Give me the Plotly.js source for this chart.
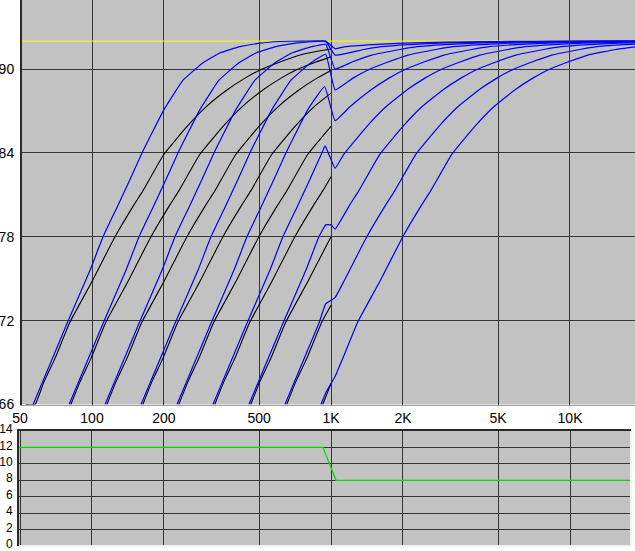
<!DOCTYPE html>
<html>
<head>
<meta charset="utf-8">
<script src="https://cdn.plot.ly/plotly-3.0.1.min.js"></script>
<style>
html,body{margin:0;padding:0;background:#fff;}
#chart{width:635px;height:551px;}
</style>
</head>
<body>
<div id="chart"></div>
<script>
// ---- Blue curves (Hz, dB) ----
const blueFreq1 = [56.7, 78.6, 98.1, 111.2, 127.2, 144.2, 161.9, 200, 240.3, 288.6, 343, 416, 505, 612, 760, 950, 1040, 1147, 1500, 2000, 3000, 5000, 10000, 19000];
const blueLevel1 = [66.0, 71.8, 75.6, 78.0, 80.1, 82.1, 84.0, 87.1, 89.2, 90.4, 91.15, 91.6, 91.85, 91.97, 92.0, 92.0, 91.45, 91.6, 91.75, 91.85, 91.93, 91.97, 92.0, 92.0];

const blueFreq2 = [80.2, 111.2, 138.7, 157.3, 179.9, 203.9, 229.0, 282.8, 339.8, 408.1, 485.1, 588.3, 714.2, 865.5, 950, 1040, 1373, 1622, 2121, 2828, 4243, 7071, 14142, 19000];
const blueLevel2 = [66.0, 71.8, 75.6, 78.0, 80.1, 82.1, 84.0, 87.1, 89.2, 90.4, 91.15, 91.6, 91.85, 91.97, 91.98, 91.0, 91.4, 91.6, 91.75, 91.85, 91.93, 91.97, 92.0, 92.0];

const blueFreq3 = [113.4, 157.2, 196.2, 222.4, 254.4, 288.4, 323.8, 400, 480.6, 577.2, 686, 832, 950, 1040, 1224, 1484, 1942, 2294, 3000, 4000, 6000, 10000, 19000];
const blueLevel3 = [66.0, 71.8, 75.6, 78.0, 80.1, 82.1, 84.0, 87.1, 89.2, 90.4, 91.15, 91.6, 91.77, 90.0, 90.5, 91.0, 91.4, 91.6, 91.75, 91.85, 91.93, 91.97, 92.0];

const blueFreq4 = [160.4, 222.3, 277.5, 314.5, 359.8, 407.9, 457.9, 565.7, 679.7, 816.3, 950, 1040, 1236, 1414, 1731, 2099, 2746, 3244, 4243, 5657, 8485, 14142, 19000];
const blueLevel4 = [66.0, 71.8, 75.6, 78.0, 80.1, 82.1, 84.0, 87.1, 89.2, 90.4, 91.06, 88.5, 89.35, 89.9, 90.5, 91.0, 91.4, 91.6, 91.75, 91.85, 91.93, 91.97, 91.99];

const blueFreq5 = [226.8, 314.4, 392.4, 444.8, 508.8, 576.8, 647.6, 800, 940, 1040, 1200, 1468, 1748, 2000, 2448, 2968, 3884, 4588, 6000, 8000, 12000, 19000];
const blueLevel5 = [66.0, 71.8, 75.6, 78.0, 80.1, 82.1, 84.0, 87.1, 88.75, 86.3, 87.3, 88.5, 89.35, 89.9, 90.5, 91.0, 91.4, 91.6, 91.75, 91.85, 91.93, 91.96];

const blueFreq6 = [320.7, 444.6, 554.9, 629.0, 719.6, 815.7, 915.9, 945, 1040, 1131, 1414, 1697, 2076, 2472, 2828, 3462, 4197, 5493, 6488, 8485, 11314, 16971, 19000];
const blueLevel6 = [66.0, 71.8, 75.6, 78.0, 80.1, 82.1, 84.0, 84.5, 82.9, 83.9, 85.9, 87.3, 88.5, 89.35, 89.9, 90.5, 91.0, 91.4, 91.6, 91.75, 91.85, 91.93, 91.94];

const blueFreq7 = [453.6, 628.8, 784.8, 889.6, 950, 1000, 1040, 1200, 1308, 1600, 2000, 2400, 2936, 3496, 4000, 4896, 5936, 7768, 9176, 12000, 16000, 19000];
const blueLevel7 = [66.0, 71.8, 75.6, 78.0, 78.85, 78.85, 78.55, 80.3, 81.3, 83.9, 85.9, 87.3, 88.5, 89.35, 89.9, 90.5, 91.0, 91.4, 91.6, 91.75, 91.85, 91.88];

const blueFreq8 = [641.5, 889.3, 950, 1040, 1131, 1412, 1697, 1850, 2263, 2828, 3394, 4152, 4944, 5657, 6924, 8395, 10986, 12977, 16971, 19000];
const blueLevel8 = [66.0, 71.8, 73.2, 73.65, 74.8, 78.0, 80.3, 81.3, 83.9, 85.9, 87.3, 88.5, 89.35, 89.9, 90.5, 91.0, 91.4, 91.6, 91.75, 91.78];

const blueFreq9 = [907.2, 950, 1040, 1120, 1294, 1600, 1997, 2400, 2616, 3200, 4000, 4800, 5872, 6992, 8000, 9792, 11872, 15536, 19000];
const blueLevel9 = [66.0, 66.83, 68.0, 69.3, 71.9, 74.8, 78.0, 80.3, 81.3, 83.9, 85.9, 87.3, 88.5, 89.35, 89.9, 90.5, 91.0, 91.4, 91.6];

// ---- Black curves (Hz, dB), drawn up to 1 kHz ----
const blackFreq1 = [52.9, 57.7, 62.9, 70, 80.9, 100, 124.8, 150, 163.5, 200, 250, 300, 367, 437, 500, 612, 742, 971, 1000];
const blackLevel1 = [66.0, 66.0, 67.6, 69.3, 71.9, 74.8, 78.0, 80.3, 81.3, 83.9, 85.9, 87.3, 88.5, 89.35, 89.9, 90.5, 91.0, 91.4, 91.43];
const blackFreq2 = [81.6, 89.0, 99.0, 114.4, 141.4, 176.5, 212.1, 231.2, 282.8, 353.6, 424.3, 519.0, 618.0, 707.1, 865.5, 1000];
const blackLevel2 = [66.0, 67.6, 69.3, 71.9, 74.8, 78.0, 80.3, 81.3, 83.9, 85.9, 87.3, 88.5, 89.35, 89.9, 90.5, 90.87];
const blackFreq3 = [115.4, 125.8, 140, 161.8, 200, 249.6, 300, 327, 400, 500, 600, 734, 874, 1000];
const blackLevel3 = [66.0, 67.6, 69.3, 71.9, 74.8, 78.0, 80.3, 81.3, 83.9, 85.9, 87.3, 88.5, 89.35, 89.9];
const blackFreq4 = [163.2, 177.9, 198.0, 228.8, 282.8, 353.0, 424.3, 462.4, 565.7, 707.1, 848.5, 1000];
const blackLevel4 = [66.0, 67.6, 69.3, 71.9, 74.8, 78.0, 80.3, 81.3, 83.9, 85.9, 87.3, 88.28];
const blackFreq5 = [230.8, 251.6, 280, 323.6, 400, 499.2, 600, 654, 800, 1000];
const blackLevel5 = [66.0, 67.6, 69.3, 71.9, 74.8, 78.0, 80.3, 81.3, 83.9, 85.9];
const blackFreq6 = [326.4, 355.8, 396.0, 457.6, 565.7, 706.0, 848.5, 924.9, 1000];
const blackLevel6 = [66.0, 67.6, 69.3, 71.9, 74.8, 78.0, 80.3, 81.3, 82.3];
const blackFreq7 = [461.6, 503.2, 560, 647.2, 800, 1000];
const blackLevel7 = [66.0, 67.6, 69.3, 71.9, 74.8, 78.0];
const blackFreq8 = [652.8, 711.6, 792.0, 915.3, 1000];
const blackLevel8 = [66.0, 67.6, 69.3, 71.9, 73.1];
const blackFreq9 = [923.2, 1000];
const blackLevel9 = [66.0, 67.5];

// ---- Reference line and lower panel ----
const refFreq = [50, 19000];
const refLevel = [92, 92];
const lowerFreq = [49, 926, 1050, 19000];
const lowerValue = [12, 12, 8, 8];

// ---- Ticks ----
const freqTicks = [50, 100, 200, 500, 1000, 2000, 5000, 10000];
const freqTickText = ['50', '100', '200', '500', '1K', '2K', '5K', '10K'];
const levelTicks = [66, 72, 78, 84, 90];
const lowerTicks = [0, 2, 4, 6, 8, 10, 12, 14];

const blueSets = [
  [blueFreq1, blueLevel1], [blueFreq2, blueLevel2], [blueFreq3, blueLevel3],
  [blueFreq4, blueLevel4], [blueFreq5, blueLevel5], [blueFreq6, blueLevel6],
  [blueFreq7, blueLevel7], [blueFreq8, blueLevel8], [blueFreq9, blueLevel9]
];
const blackSets = [
  [blackFreq1, blackLevel1], [blackFreq2, blackLevel2], [blackFreq3, blackLevel3],
  [blackFreq4, blackLevel4], [blackFreq5, blackLevel5], [blackFreq6, blackLevel6],
  [blackFreq7, blackLevel7], [blackFreq8, blackLevel8], [blackFreq9, blackLevel9]
];

const traces = [];
traces.push({x: refFreq, y: refLevel, xaxis: 'x', yaxis: 'y', mode: 'lines',
  line: {color: '#ffff00', width: 1}, hoverinfo: 'skip'});
blackSets.forEach(s => traces.push({x: s[0], y: s[1], xaxis: 'x', yaxis: 'y', mode: 'lines',
  line: {color: '#000000', width: 1.1, shape: 'spline', smoothing: 0.4}, hoverinfo: 'skip'}));
blueSets.forEach(s => traces.push({x: s[0], y: s[1], xaxis: 'x', yaxis: 'y', mode: 'lines',
  line: {color: '#0000ff', width: 1.2, shape: 'spline', smoothing: 0.3}, hoverinfo: 'skip'}));
traces.push({x: lowerFreq, y: lowerValue, xaxis: 'x2', yaxis: 'y2', mode: 'lines',
  line: {color: '#00e000', width: 1.2}, hoverinfo: 'skip'});

const W = 635, H = 551;
const gridC = '#363636';
const layout = {
  width: W, height: H, autosize: false,
  margin: {l: 0, r: 0, t: 0, b: 0, pad: 0},
  paper_bgcolor: '#ffffff', plot_bgcolor: '#c2c2c2',
  showlegend: false,
  font: {family: '"Liberation Sans", Arial, sans-serif', size: 14, color: '#000000'},
  xaxis: {
    type: 'log', domain: [22 / W, 1], range: [1.7071, 4.2720], anchor: 'y',
    tickvals: freqTicks, showticklabels: false, ticks: '',
    showgrid: true, gridcolor: gridC, gridwidth: 1, zeroline: false,
    showline: true, linecolor: '#a0a0a0', linewidth: 1
  },
  yaxis: {
    domain: [1 - 404.5 / H, 1], range: [66, 94.94], anchor: 'x',
    tickvals: levelTicks, ticks: '', ticklabelstandoff: 3, ticklabeloverflow: 'allow',
    showgrid: true, gridcolor: gridC, gridwidth: 1, zeroline: false,
    showline: true, linecolor: '#2a2a2a', linewidth: 2,
    tickfont: {size: 14}
  },
  xaxis2: {
    type: 'log', domain: [19 / W, 631 / W], range: [1.6946, 4.2552], anchor: 'y2',
    side: 'top', tickvals: freqTicks, ticktext: freqTickText, ticks: '', ticklabelstandoff: 0,
    ticklabeloverflow: 'allow',
    showgrid: true, gridcolor: gridC, gridwidth: 1, zeroline: false,
    showline: true, linecolor: '#2a2a2a', linewidth: 2,
    tickfont: {size: 14}
  },
  yaxis2: {
    domain: [(H - 546) / H, (H - 431) / H], range: [0, 14], anchor: 'x2',
    tickvals: lowerTicks, ticks: '', ticklabelstandoff: 2, ticklabelshift: -2, ticklabeloverflow: 'allow',
    showgrid: true, gridcolor: gridC, gridwidth: 1, zeroline: false,
    showline: true, linecolor: '#2a2a2a', linewidth: 2,
    tickfont: {size: 12}
  },
  shapes: [
    {type: 'line', xref: 'x2 domain', yref: 'y2 domain', x0: 0, x1: 1, y0: 0, y1: 0,
     line: {color: '#f4f4f4', width: 2}, layer: 'above'},
    {type: 'line', xref: 'x2 domain', yref: 'y2 domain', x0: 1, x1: 1, y0: 0, y1: 1,
     line: {color: '#f4f4f4', width: 2}, layer: 'above'}
  ]
};

Plotly.newPlot('chart', traces, layout, {staticPlot: true, displayModeBar: false});
</script>
</body>
</html>
